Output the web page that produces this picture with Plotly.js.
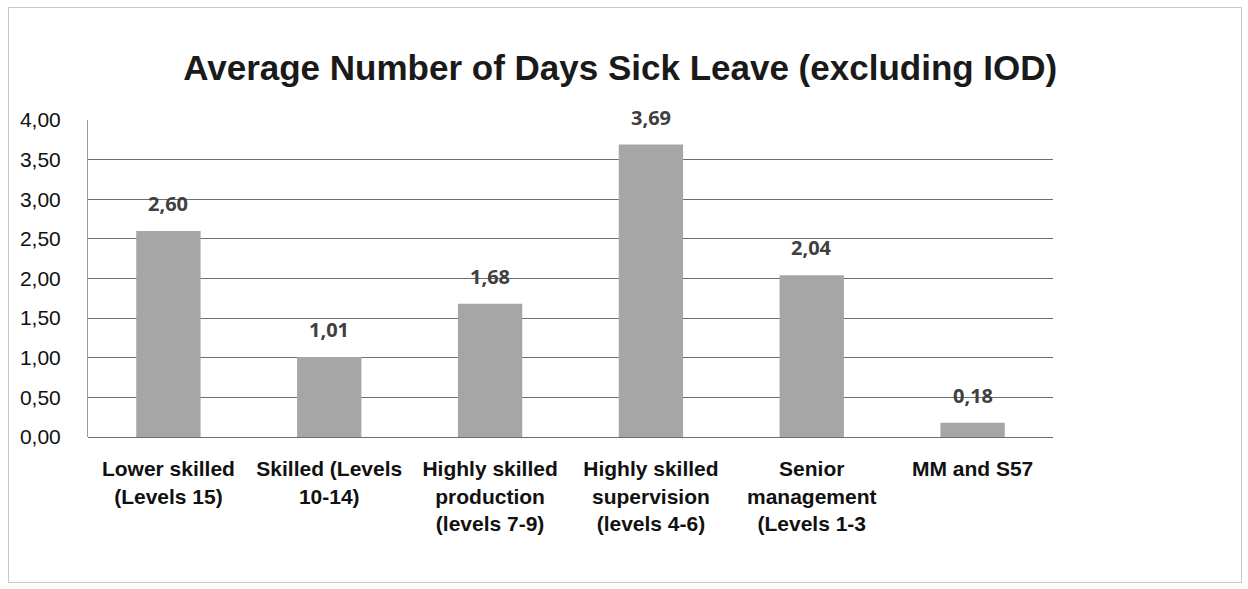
<!DOCTYPE html>
<html>
<head>
<meta charset="utf-8">
<script src="https://cdn.plot.ly/plotly-3.0.1.min.js"></script>
<style>
html,body{margin:0;padding:0;background:#fff;}
#frame{position:absolute;left:8px;top:7px;width:1234px;height:576px;border:1.5px solid #c8c8c8;box-sizing:border-box;}
#chart{position:absolute;left:0;top:0;width:1248px;height:589px;}
</style>
</head>
<body>
<div id="frame"></div>
<div id="chart"></div>
<script>
const categories = [
  "Lower skilled<br>(Levels 15)",
  "Skilled (Levels<br>10-14)",
  "Highly skilled<br>production<br>(levels 7-9)",
  "Highly skilled<br>supervision<br>(levels 4-6)",
  "Senior<br>management<br>(Levels 1-3",
  "MM and S57"
];
const values = [2.60, 1.01, 1.68, 3.69, 2.04, 0.18];
const yTicks = [0, 0.5, 1, 1.5, 2, 2.5, 3, 3.5, 4];
const titleText = "Average Number of Days Sick Leave (excluding IOD)";

const narrow = "'Liberation Sans Narrow', 'Arial Narrow', 'Liberation Sans', Arial, sans-serif";

const trace = {
  type: "bar",
  x: categories,
  y: values,
  marker: {color: "#a6a6a6", line: {width: 0}},
  hoverinfo: "skip"
};

const annotations = values.map((v, i) => ({
  x: categories[i],
  y: v,
  xref: "x",
  yref: "y",
  text: v.toFixed(2).replace(".", ","),
  showarrow: false,
  yanchor: "bottom",
  yshift: 12,
  font: {family: "'Open Sans', 'Noto Sans', sans-serif", size: 20, color: "#404040", weight: "bold"}
}));

const layout = {
  width: 1248,
  height: 589,
  paper_bgcolor: "rgba(0,0,0,0)",
  plot_bgcolor: "rgba(0,0,0,0)",
  separators: ",.",
  margin: {l: 88, r: 195, t: 120, b: 152},
  bargap: 0.6,
  showlegend: false,
  title: {
    text: titleText,
    x: 0.497,
    xanchor: "center",
    y: 0.885,
    yanchor: "middle",
    font: {family: narrow, size: 35, color: "#1a1a1a", weight: "bold"}
  },
  xaxis: {
    type: "category",
    showgrid: false,
    showline: false,
    zeroline: false,
    ticks: "outside",
    ticklen: 13,
    tickcolor: "rgba(0,0,0,0)",
    tickfont: {family: narrow, size: 21, color: "#111", weight: "bold"},
    tickangle: 0
  },
  yaxis: {
    range: [0, 4],
    tickvals: yTicks,
    tickformat: ".2f",
    showgrid: true,
    gridcolor: "#6e6e6e",
    gridwidth: 1,
    zeroline: true,
    zerolinecolor: "#6e6e6e",
    zerolinewidth: 1,
    showline: true,
    linecolor: "#9a9a9a",
    linewidth: 1,
    ticks: "outside",
    ticklen: 22,
    tickcolor: "rgba(0,0,0,0)",
    tickfont: {family: narrow, size: 21, color: "#111"}
  },
  annotations: annotations
};

Plotly.newPlot("chart", [trace], layout, {displayModeBar: false, staticPlot: true});
</script>
</body>
</html>
